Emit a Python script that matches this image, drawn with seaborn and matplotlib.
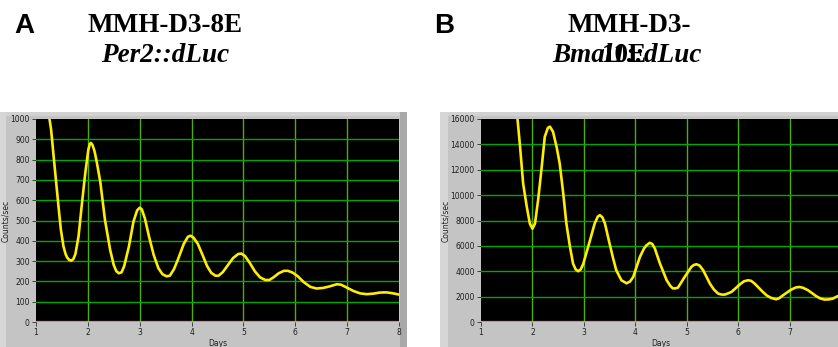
import matplotlib
matplotlib.use('Agg')
import matplotlib.pyplot as plt
from matplotlib.patches import Rectangle
import pandas as pd
import seaborn as sns

sns.set_style('dark')

# Panel A: MMH-D3-8E Per2::dLuc
days_a = [1.26, 1.29, 1.31, 1.34, 1.39, 1.44, 1.48, 1.53, 1.57, 1.60, 1.64, 1.68, 1.72, 1.76,
          1.82, 1.88, 1.95, 2.01, 2.04, 2.06, 2.09, 2.13, 2.17, 2.24, 2.33, 2.43, 2.50, 2.55,
          2.60, 2.65, 2.70, 2.79, 2.88, 2.95, 3.00, 3.04, 3.10, 3.18, 3.27, 3.36, 3.44, 3.52,
          3.58, 3.66, 3.74, 3.85, 3.93, 3.98, 4.04, 4.12, 4.22, 4.30, 4.38, 4.46, 4.52, 4.60,
          4.70, 4.80, 4.90, 4.96, 5.03, 5.12, 5.22, 5.32, 5.42, 5.50, 5.58, 5.68, 5.78, 5.86,
          5.95, 6.05, 6.16, 6.29, 6.41, 6.54, 6.67, 6.80, 6.88, 6.99, 7.12, 7.25, 7.38, 7.51,
          7.63, 7.76, 7.89, 8.00]
counts_a = [1000, 950, 898, 816, 684, 553, 454, 372, 335, 318, 306, 302, 310, 335,
            421, 569, 734, 850, 878, 882, 872, 840, 790, 690, 503, 355, 280, 250,
            240, 245, 275, 370, 495, 550, 563, 555, 510, 420, 330, 265, 235, 225,
            228, 260, 310, 385, 420, 425, 415, 385, 325, 275, 242, 228, 228, 245,
            280, 315, 335, 337, 325, 292, 250, 220, 207, 207, 220, 240, 252, 252,
            243, 225, 197, 173, 165, 168, 176, 186, 184, 170, 153, 141, 137, 140,
            145, 146, 141, 135]

# Panel B: MMH-D3-10E Bmal1::dLuc
days_b = [1.71, 1.76, 1.82, 1.89, 1.95, 2.00, 2.05, 2.11, 2.18, 2.24, 2.30, 2.34, 2.40, 2.47,
          2.53, 2.60, 2.66, 2.73, 2.79, 2.84, 2.89, 2.94, 2.99, 3.06, 3.12, 3.21, 3.27, 3.31,
          3.36, 3.41, 3.50, 3.57, 3.63, 3.73, 3.83, 3.90, 3.96, 4.09, 4.17, 4.22, 4.28, 4.33,
          4.38, 4.48, 4.55, 4.61, 4.68, 4.73, 4.78, 4.83, 4.96, 5.09, 5.14, 5.19, 5.25, 5.32,
          5.45, 5.53, 5.61, 5.68, 5.74, 5.80, 5.87, 6.03, 6.11, 6.19, 6.25, 6.32, 6.48, 6.56,
          6.64, 6.74, 6.80, 6.87, 7.03, 7.12, 7.19, 7.26, 7.36, 7.52, 7.60, 7.68, 7.76, 7.84,
          7.93, 8.00]
counts_b = [16000, 13800, 10900, 9080, 7750, 7350, 7760, 9600, 12200, 14600, 15300, 15400, 15000, 13800,
            12500, 10100, 7760, 5920, 4600, 4150, 4000, 4150, 4600, 5600, 6450, 7760, 8300, 8420,
            8250, 7760, 6180, 5000, 4080, 3290, 3050, 3200, 3550, 5130, 5800, 6050, 6240, 6150,
            5790, 4600, 3900, 3290, 2850, 2650, 2650, 2710, 3550, 4340, 4500, 4550, 4450, 4080,
            3030, 2550, 2240, 2160, 2160, 2250, 2370, 2950, 3200, 3290, 3250, 3030, 2370, 2080,
            1900, 1790, 1880, 2100, 2550, 2720, 2760, 2700, 2500, 2030, 1850, 1770, 1780, 1840,
            2030, 2150]

W, H = 838, 347
fig = plt.figure(figsize=(W / 100, H / 100), dpi=100)
fig.patch.set_facecolor('white')


def px_rect(x0, y0, x1, y1, color):
    # rectangle given in pixel coords measured from top-left
    fig.patches.append(Rectangle((x0 / W, 1 - y1 / H), (x1 - x0) / W, (y1 - y0) / H,
                                 transform=fig.transFigure, facecolor=color,
                                 edgecolor='none', zorder=-5))


# grey instrument frames
px_rect(0, 112, 407, 347, '#c4c4c4')
px_rect(0, 112, 407, 116, '#d2d2d2')
px_rect(0, 112, 6, 347, '#d6d6d6')
px_rect(400, 112, 407, 347, '#a9a9a9')
px_rect(440, 112, 838, 347, '#c4c4c4')
px_rect(440, 112, 838, 116, '#d2d2d2')
px_rect(440, 112, 448, 347, '#d6d6d6')

panels = [
    dict(days=days_a, counts=counts_a, box=(36, 399, 119, 322), ymax=1000, ystep=100, xmax_label=8),
    dict(days=days_b, counts=counts_b, box=(481, 841, 119, 322), ymax=16000, ystep=2000, xmax_label=7),
]

for p in panels:
    x0, x1, y0, y1 = p['box']
    ax = fig.add_axes([x0 / W, 1 - y1 / H, (x1 - x0) / W, (y1 - y0) / H])
    ax.set_zorder(2)
    ax.set_facecolor('black')
    df = pd.DataFrame({'Days': p['days'], 'Counts/sec': p['counts']})
    ax.set_xlim(1, 8)
    ax.set_ylim(0, p['ymax'])
    yt = list(range(0, p['ymax'] + 1, p['ystep']))
    ax.set_xticks(range(1, p['xmax_label'] + 1))
    ax.set_yticks(yt)
    for d in range(2, 8):
        ax.axvline(d, color='#4fb000', lw=1.0, zorder=1)
    for v in yt[1:-1]:
        ax.axhline(v, color='#00a800', lw=1.0, zorder=1)
    ax.axhline(0, color='#f08080', lw=1.6, zorder=2)
    sns.lineplot(data=df, x='Days', y='Counts/sec', ax=ax, color='#ffee00', lw=1.9,
                 zorder=3, clip_on=True)
    ax.grid(False)
    for s in ax.spines.values():
        s.set_visible(False)
    ax.tick_params(axis='both', which='both', length=3, width=0.7, color='#404040',
                   labelsize=5.5, labelcolor='#202020', pad=1.5, direction='out')
    ax.tick_params(axis='x', bottom=True, left=False)
    ax.tick_params(axis='y', left=True, bottom=False)
    ax.set_xlabel('Days', fontsize=5.5, color='#202020', labelpad=1)
    ax.set_ylabel('Counts/sec', fontsize=5.5, color='#202020', labelpad=0.5)

serif = ['Liberation Serif', 'DejaVu Serif']
sans = ['Liberation Sans', 'DejaVu Sans']
fs = 19.5

fig.text(14 / W, 1 - 33 / H, 'A', family=sans, weight='bold', fontsize=20, va='baseline', ha='left',
         color='black')
fig.text(434 / W, 1 - 33 / H, 'B', family=sans, weight='bold', fontsize=20, va='baseline', ha='left',
         color='black')
fig.text(165 / W, 1 - 32 / H, 'MMH-D3-8E', family=serif, weight='bold', fontsize=fs, va='baseline',
         ha='center', color='black')
fig.text(165 / W, 1 - 62 / H, 'Per2::dLuc', family=serif, weight='bold', style='italic', fontsize=fs,
         va='baseline', ha='center', color='black')
fig.text(629 / W, 1 - 32 / H, 'MMH-D3-', family=serif, weight='bold', fontsize=fs, va='baseline',
         ha='center', color='black')
fig.text(627 / W, 1 - 62 / H, 'Bmal1::dLuc', family=serif, weight='bold', style='italic', fontsize=fs,
         va='baseline', ha='center', color='black')
fig.text(624 / W, 1 - 62 / H, '10E', family=serif, weight='bold', fontsize=fs, va='baseline',
         ha='center', color='black')

fig.savefig('out.png', dpi=100)
